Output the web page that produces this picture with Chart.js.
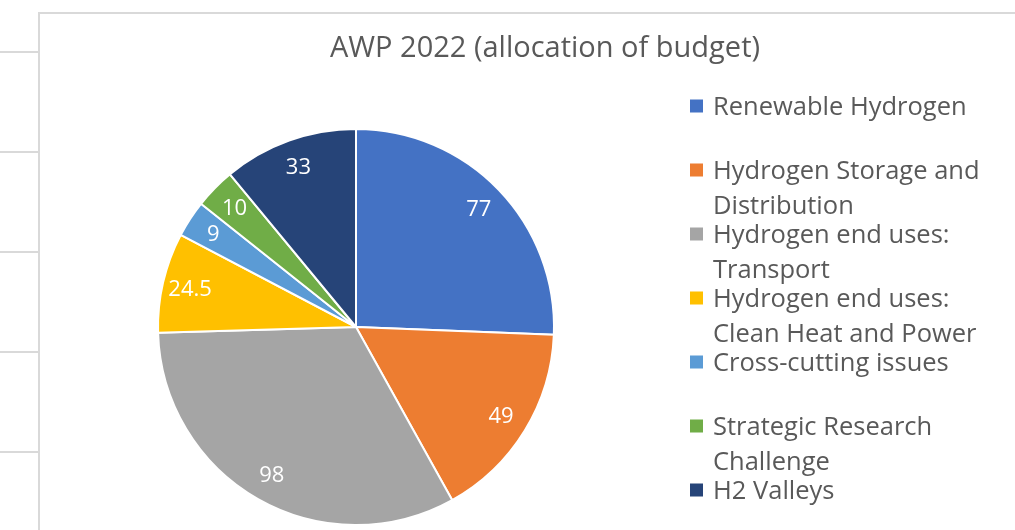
<!DOCTYPE html>
<html>
<head>
<meta charset="utf-8">
<title>AWP 2022 (allocation of budget)</title>
<script src="https://cdn.jsdelivr.net/npm/chart.js@4.4.0/dist/chart.umd.min.js"></script>
<style>
  html, body { margin: 0; padding: 0; background: #fff; }
  #wrap { position: relative; width: 1015px; height: 530px; }
</style>
</head>
<body>
<div id="wrap">
  <canvas id="pieChart" width="1015" height="530"></canvas>
</div>
<script>
// datos del gráfico
const chartTitle = 'AWP 2022 (allocation of budget)';
const categories = [
  ['Renewable Hydrogen'],
  ['Hydrogen Storage and', 'Distribution'],
  ['Hydrogen end uses:', 'Transport'],
  ['Hydrogen end uses:', 'Clean Heat and Power'],
  ['Cross-cutting issues'],
  ['Strategic Research', 'Challenge'],
  ['H2 Valleys']
];
const budget = [77, 49, 98, 24.5, 9, 10, 33];
const valueLabels = ['77', '49', '98', '24.5', '9', '10', '33'];
const sliceColors = ['#4472C4', '#ED7D31', '#A5A5A5', '#FFC000', '#5B9BD5', '#70AD47', '#264478'];

const fontFamily = '"Open Sans", Lato, sans-serif';
const textGray = '#595959';

// líneas grises del fondo (hoja de cálculo detrás del gráfico)
const backgroundFrame = {
  id: 'backgroundFrame',
  beforeDraw(chart) {
    const ctx = chart.ctx;
    ctx.save();
    ctx.strokeStyle = '#D9D9D9';
    ctx.lineWidth = 2;
    ctx.beginPath();
    ctx.moveTo(39, 530);
    ctx.lineTo(39, 13);
    ctx.lineTo(1015, 13);
    [52, 152, 252, 352, 452].forEach(y => {
      ctx.moveTo(0, y);
      ctx.lineTo(38, y);
    });
    ctx.stroke();
    ctx.restore();
  }
};

// título, etiquetas de valores y leyenda al estilo de Excel
const excelText = {
  id: 'excelText',
  afterDraw(chart) {
    const ctx = chart.ctx;
    ctx.save();

    // título
    ctx.fillStyle = textGray;
    ctx.font = '29px ' + fontFamily;
    ctx.textAlign = 'center';
    ctx.textBaseline = 'middle';
    ctx.fillText(chartTitle, 545, 49);

    // etiquetas dentro de cada porción
    const meta = chart.getDatasetMeta(0);
    ctx.font = '22px ' + fontFamily;
    ctx.fillStyle = '#FFFFFF';
    meta.data.forEach((arc, i) => {
      const a = (arc.startAngle + arc.endAngle) / 2;
      const r = arc.outerRadius * 0.86;
      ctx.fillText(valueLabels[i], arc.x + Math.cos(a) * r, arc.y + Math.sin(a) * r + 1);
    });

    // leyenda
    ctx.font = '25.5px ' + fontFamily;
    ctx.textAlign = 'left';
    categories.forEach((lines, i) => {
      const y0 = 106 + i * 64;
      ctx.fillStyle = sliceColors[i];
      ctx.fillRect(690, y0 - 6.5, 13, 13);
      ctx.fillStyle = textGray;
      lines.forEach((t, j) => {
        ctx.fillText(t, 713, y0 + j * 35 + 2);
      });
    });

    ctx.restore();
  }
};

const ctx = document.getElementById('pieChart').getContext('2d');
const pieChart = new Chart(ctx, {
  type: 'pie',
  data: {
    labels: categories.map(l => l.join(' ')),
    datasets: [{
      data: budget,
      backgroundColor: sliceColors,
      borderColor: '#FFFFFF',
      borderWidth: 2
    }]
  },
  options: {
    responsive: false,
    animation: false,
    layout: { padding: { left: 157, right: 460, top: 128, bottom: 4 } },
    plugins: {
      legend: { display: false },
      title: { display: false },
      tooltip: { enabled: false }
    }
  },
  plugins: [backgroundFrame, excelText]
});
</script>
</body>
</html>
